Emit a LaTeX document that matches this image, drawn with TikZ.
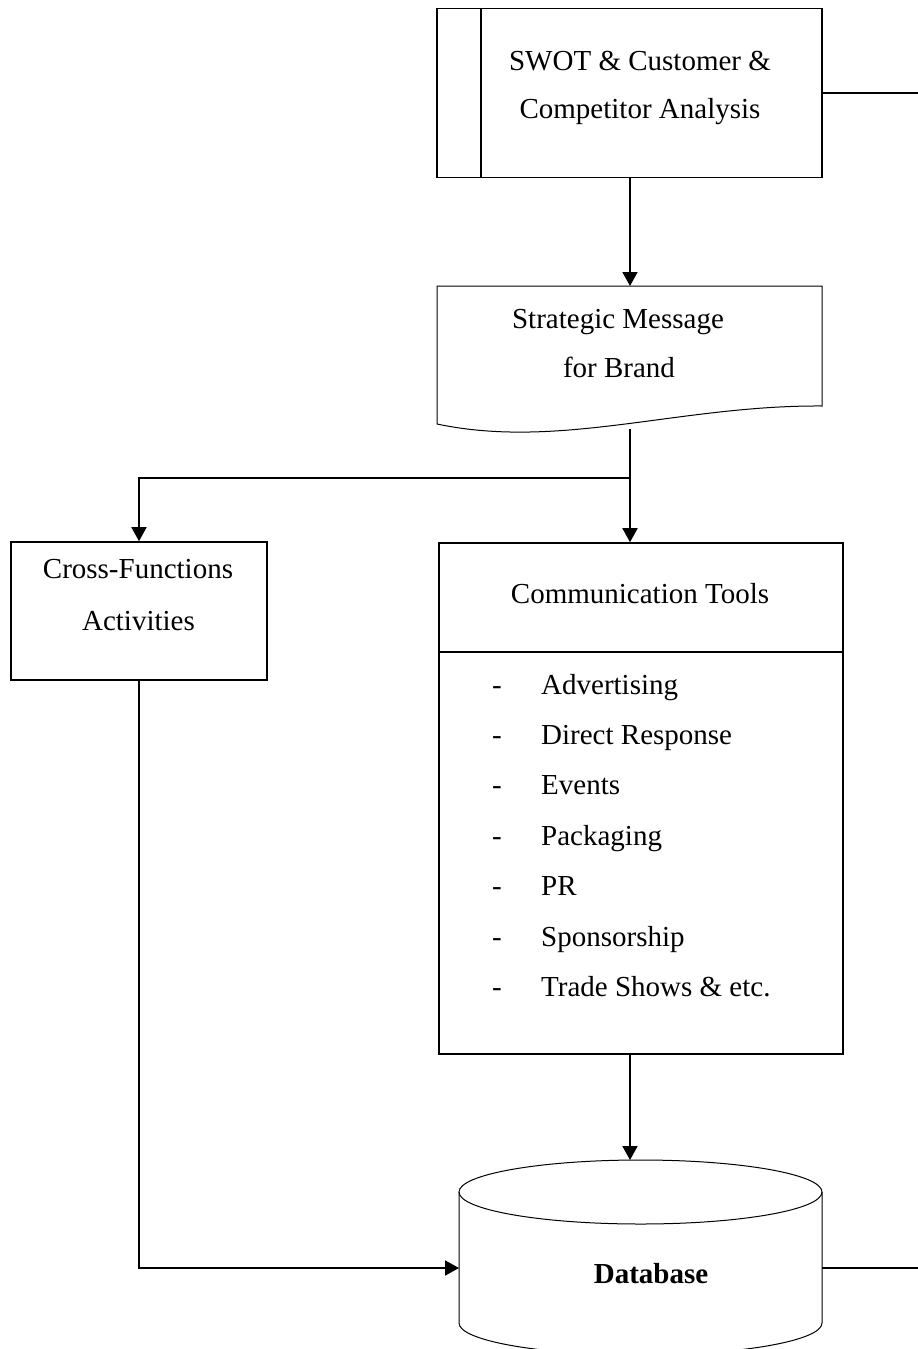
\documentclass[tikz,border=0pt]{standalone}
\usepackage{fontspec}
\setmainfont{Liberation Serif}
\usetikzlibrary{arrows.meta}
\begin{document}
\begin{tikzpicture}[x=1pt,y=-1pt,
  boxline/.style={draw=black,line width=1.6pt},
  panel/.style={boxline,rectangle,inner sep=0pt},
  txt/.style={inner sep=0pt,anchor=base,font=\fontsize{29}{34}\selectfont},
  itemtxt/.style={txt,anchor=base west},
  dashtxt/.style={txt,anchor=base},
  link/.style={draw=black,line width=1.8pt},
  flow/.style={link,-{Triangle[length=14pt,width=15pt]}},
  dbline/.style={draw=black,line width=1pt}]
\useasboundingbox (0,0) rectangle (918,1349);
\clip (0,0) rectangle (918,1349);

% predefined-process box
\node[panel,minimum width=385pt,minimum height=169pt] (swot) at (629.5,93) {};
\draw[boxline] (481,8.5) -- (481,177.5);
\node[txt] (swot1) at (640,70) {SWOT \& Customer \&};
\node[txt] (swot2) at (640,118) {Competitor Analysis};

% document shape
\coordinate (msgtop) at (630,286);
\draw[boxline,line width=1pt] (437,286) -- (822,286) -- (822,406)
  .. controls (680,405) and (560,450) .. (437,424) -- cycle;
\node[txt] (msg1) at (618,328) {Strategic Message};
\node[txt] (msg2) at (619,377) {for Brand};
\coordinate (msgbot) at (630,429);

% cross-functions box
\node[panel,minimum width=256pt,minimum height=138pt] (cross) at (139,611) {};
\node[txt] (cross1) at (138,578) {Cross-Functions};
\node[txt] (cross2) at (138.5,630) {Activities};

% communication tools box
\node[panel,minimum width=404pt,minimum height=511pt] (tools) at (641,798.5) {};
\draw[boxline] (439,652) -- (843,652);
\node[txt] (toolshead) at (640,603) {Communication Tools};
\foreach \i/\t in {0/Advertising,1/Direct Response,2/Events,3/Packaging,4/PR,5/Sponsorship,6/Trade Shows \& etc.}{
  \node[dashtxt] (dash\i) at (497,694+50.4*\i) {-};
  \node[itemtxt] (item\i) at (541,694+50.4*\i) {\t};
}

% database cylinder
\node[inner sep=0pt,minimum width=363pt,minimum height=195pt] (db) at (640.5,1257.5) {};
\draw[dbline,fill=white] (459,1192) -- (459,1323)
  arc[start angle=180,end angle=0,x radius=181.5,y radius=32] -- (822,1192);
\draw[dbline] (640.5,1192) ellipse [x radius=181.5,y radius=32];
\node[txt,font=\fontsize{29}{34}\selectfont\bfseries] (dbtxt) at (651,1283) {Database};

% connectors
\coordinate (jn) at (630,478);
\coordinate (swotout) at (918,93);
\coordinate (dbin) at (459,1268);
\coordinate (dbout) at (822,1268);
\coordinate (edge) at (918,1268);
\coordinate (dbtop) at (630,1160);

\draw[link] (swot.east) -- (swotout);
\draw[flow] (swot.south -| msgtop) -- (msgtop);
\draw[link] (msgbot) -- (jn);
\draw[flow] (jn) -- (jn |- tools.north);
\draw[flow] (jn) -| (cross.north);
\draw[flow] (tools.south -| dbtop) -- (dbtop);
\draw[flow] (cross.south) |- (dbin);
\draw[link] (dbout) -- (edge);
\end{tikzpicture}
\end{document}
